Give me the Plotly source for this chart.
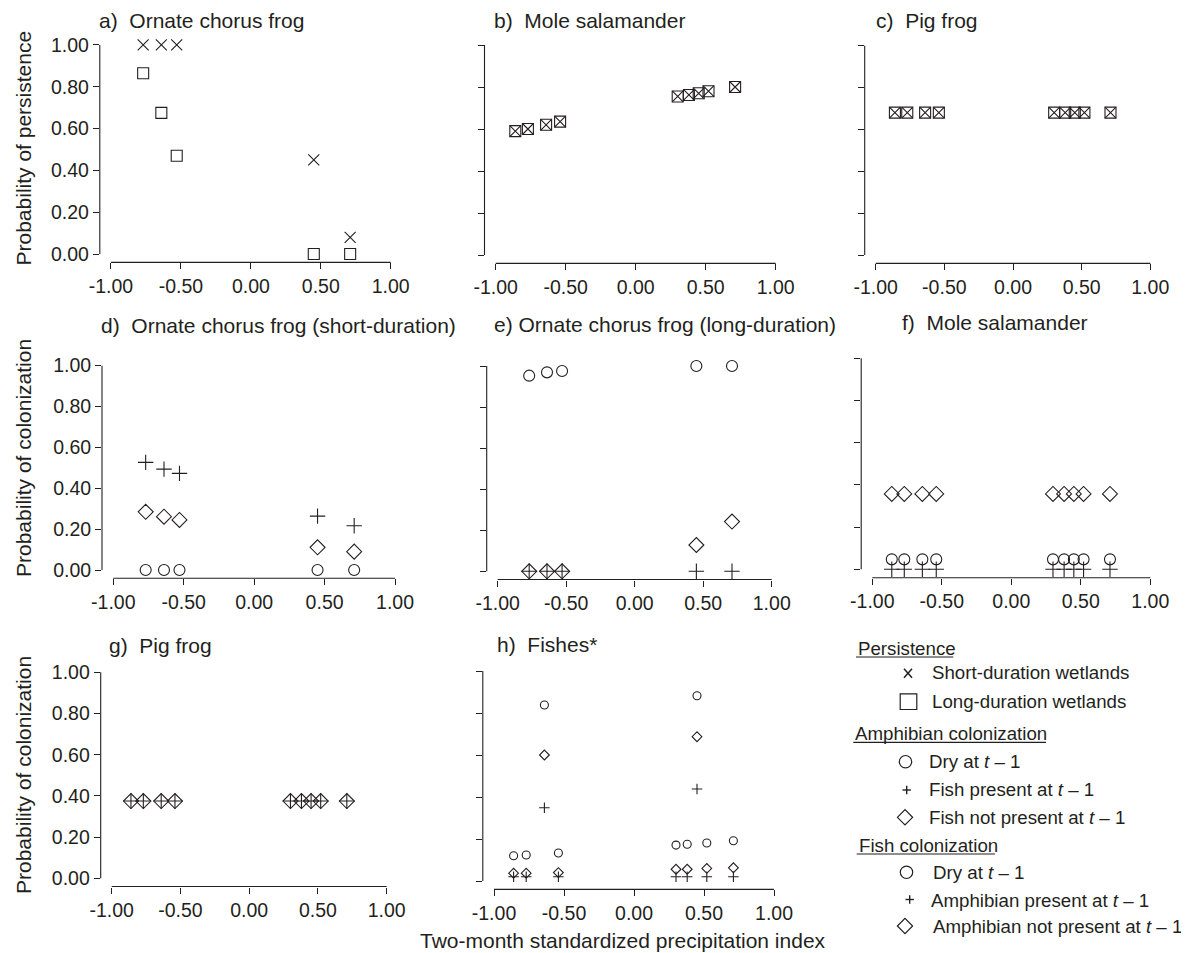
import plotly.graph_objects as go

# The page body has an 8 px margin, so the figure is drawn 8 px smaller and
# every reference pixel position is shifted by that margin.
REF_W, REF_H = 1189, 953
OFF = 8
W, H = REF_W - OFF, REF_H - OFF
FONT = "Liberation Sans, Arial, Helvetica, sans-serif"
INK = "#231f20"

# ---------------- data ----------------
# two-month standardized precipitation index of each survey year
spi5 = [-0.77, -0.64, -0.53, 0.45, 0.71]
spi9 = [-0.86, -0.77, -0.64, -0.54, 0.30, 0.38, 0.45, 0.52, 0.71]

# a) Ornate chorus frog - persistence
a_short = [1.00, 1.00, 1.00, 0.45, 0.08]
a_long = [0.865, 0.675, 0.47, 0.00, 0.00]
# b) Mole salamander - persistence
b_short = [0.59, 0.60, 0.62, 0.635, 0.755, 0.762, 0.77, 0.78, 0.80]
b_long = [0.59, 0.60, 0.62, 0.635, 0.755, 0.762, 0.77, 0.78, 0.80]
# c) Pig frog - persistence
c_short = [0.68, 0.68, 0.68, 0.68, 0.68, 0.68, 0.68, 0.68, 0.68]
c_long = [0.68, 0.68, 0.68, 0.68, 0.68, 0.68, 0.68, 0.68, 0.68]
# d) Ornate chorus frog (short-duration) - colonization
d_dry = [0.00, 0.00, 0.00, 0.00, 0.00]
d_fish = [0.527, 0.494, 0.473, 0.264, 0.217]
d_nofish = [0.285, 0.261, 0.245, 0.111, 0.090]
# e) Ornate chorus frog (long-duration) - colonization
e_dry = [0.953, 0.969, 0.976, 1.00, 1.00]
e_fish = [0.00, 0.00, 0.00, 0.00, 0.00]
e_nofish = [0.00, 0.00, 0.00, 0.128, 0.242]
# f) Mole salamander - colonization
f_dry = [0.047, 0.047, 0.047, 0.047, 0.047, 0.047, 0.047, 0.047, 0.047]
f_fish = [0.00, 0.00, 0.00, 0.00, 0.00, 0.00, 0.00, 0.00, 0.00]
f_nofish = [0.357, 0.357, 0.357, 0.357, 0.357, 0.357, 0.357, 0.357, 0.357]
# g) Pig frog - colonization
g_fish = [0.375, 0.375, 0.375, 0.375, 0.375, 0.375, 0.375, 0.375, 0.375]
g_nofish = [0.375, 0.375, 0.375, 0.375, 0.375, 0.375, 0.375, 0.375, 0.375]
# h) Fishes - colonization
h_dry = [0.120, 0.124, 0.838, 0.133, 0.171, 0.175, 0.882, 0.181, 0.192]
h_amph = [0.020, 0.020, 0.349, 0.020, 0.020, 0.020, 0.438, 0.020, 0.020]
h_noamph = [0.037, 0.037, 0.600, 0.040, 0.056, 0.056, 0.687, 0.060, 0.063]

titles = ["a)\u00a0 Ornate chorus frog", "b)\u00a0 Mole salamander", "c)\u00a0 Pig frog",
          "d)\u00a0 Ornate chorus frog (short-duration)", "e) Ornate chorus frog (long-duration)",
          "f)\u00a0 Mole salamander", "g)\u00a0 Pig frog", "h)\u00a0 Fishes*"]
x_tickvals = [-1.0, -0.5, 0.0, 0.5, 1.0]
x_ticktext = ["-1.00", "-0.50", "0.00", "0.50", "1.00"]
y_tickvals = [0.0, 0.2, 0.4, 0.6, 0.8, 1.0]
y_ticktext = ["0.00", "0.20", "0.40", "0.60", "0.80", "1.00"]

# ---------------- styles / layout ----------------
STY = {
    "short": dict(symbol="x-thin-open", size=11),
    "long": dict(symbol="square-open", size=11),
    "dry": dict(symbol="circle-open", size=11),
    "fish": dict(symbol="cross-thin-open", size=11),
    "nofish": dict(symbol="diamond-open", size=11.5),
    "dry_s": dict(symbol="circle-open", size=8),
    "fish_s": dict(symbol="cross-thin-open", size=7.5),
    "nofish_s": dict(symbol="diamond-open", size=7.5),
}

panels = [
    [(spi5, a_short, "short"), (spi5, a_long, "long")],
    [(spi9, b_short, "short"), (spi9, b_long, "long")],
    [(spi9, c_short, "short"), (spi9, c_long, "long")],
    [(spi5, d_dry, "dry"), (spi5, d_fish, "fish"), (spi5, d_nofish, "nofish")],
    [(spi5, e_dry, "dry"), (spi5, e_fish, "fish"), (spi5, e_nofish, "nofish")],
    [(spi9, f_dry, "dry"), (spi9, f_fish, "fish"), (spi9, f_nofish, "nofish")],
    [(spi9, g_fish, "fish"), (spi9, g_nofish, "nofish")],
    [(spi9, h_dry, "dry_s"), (spi9, h_amph, "fish_s"), (spi9, h_noamph, "nofish_s")],
]

# plot-region boxes in reference pixels: left, right, top, bottom
BOX = [
    (99.8, 401.9, 36.6, 262.4),
    (484.5, 786.9, 36.6, 263.4),
    (864.7, 1161.3, 37.3, 263.4),
    (102.0, 406.3, 357.5, 578.2),
    (486.7, 782.7, 357.8, 579.5),
    (861.2, 1161.4, 349.9, 577.7),
    (100.7, 397.7, 664.1, 886.5),
    (482.8, 785.2, 662.6, 889.4),
]
TITLE_POS = [(97, 21), (491.7, 21), (874, 21), (99.3, 325.5), (491.7, 324),
             (900, 322), (107.3, 645), (495, 644)]
XR = [-1.08, 1.08]
YR = [-0.04, 1.04]


def px(x):
    return (x - OFF) / W


def py(y):
    return 1 - (y - OFF) / H


fig = go.Figure()
shapes = []
annotations = []

for i, series in enumerate(panels):
    n = i + 1
    xa = "x" if n == 1 else f"x{n}"
    ya = "y" if n == 1 else f"y{n}"
    for xs, ys, key in series:
        st = STY[key]
        fig.add_trace(go.Scatter(
            x=xs, y=ys, mode="markers", xaxis=xa, yaxis=ya, showlegend=False,
            marker=dict(symbol=st["symbol"], size=st["size"], color=INK,
                        line=dict(color=INK, width=1.1)),
            cliponaxis=False, hoverinfo="x+y"))
    l, r, t, b = BOX[i]
    left_col = i in (0, 3, 6)
    fig.layout[f"xaxis{'' if n == 1 else n}"] = dict(
        domain=[px(l), px(r)], anchor=ya, range=XR, showgrid=False, zeroline=False,
        showline=False, ticks="outside", ticklen=6, tickwidth=1, tickcolor=INK,
        tickvals=x_tickvals, ticktext=x_ticktext, automargin=False,
        tickfont=dict(family=FONT, size=19.5, color=INK), fixedrange=True)
    fig.layout[f"yaxis{'' if n == 1 else n}"] = dict(
        domain=[py(b), py(t)], anchor=xa, range=YR, showgrid=False, zeroline=False,
        showline=False, ticks="outside", ticklen=6, tickwidth=1, tickcolor=INK,
        tickvals=y_tickvals, ticktext=y_ticktext, showticklabels=left_col,
        automargin=False,
        tickfont=dict(family=FONT, size=19.5, color=INK), fixedrange=True)
    fx0 = (x_tickvals[0] - XR[0]) / (XR[1] - XR[0])
    fx1 = (x_tickvals[-1] - XR[0]) / (XR[1] - XR[0])
    fy0 = (y_tickvals[0] - YR[0]) / (YR[1] - YR[0])
    fy1 = (y_tickvals[-1] - YR[0]) / (YR[1] - YR[0])
    shapes.append(dict(type="line", xref=f"{xa} domain", yref=f"{ya} domain",
                       x0=fx0, x1=fx1, y0=0, y1=0, line=dict(color=INK, width=1.1)))
    shapes.append(dict(type="line", xref=f"{xa} domain", yref=f"{ya} domain",
                       x0=0, x1=0, y0=fy0, y1=fy1, line=dict(color=INK, width=1.1)))
    tx, ty = TITLE_POS[i]
    annotations.append(dict(text=titles[i], x=px(tx), y=py(ty), xref="paper", yref="paper",
                            xanchor="left", yanchor="middle", showarrow=False,
                            font=dict(family=FONT, size=21, color=INK)))

# axis titles
for txt, yc in [("Probability of persistence", 148.5), ("Probability of colonization", 458),
                ("Probability of colonization", 775)]:
    annotations.append(dict(text=txt, x=px(23), y=py(yc), xref="paper", yref="paper",
                            xanchor="center", yanchor="middle", textangle=-90, showarrow=False,
                            font=dict(family=FONT, size=21, color=INK)))
annotations.append(dict(text="Two-month standardized precipitation index", x=px(623), y=py(940),
                        xref="paper", yref="paper", xanchor="center", yanchor="middle",
                        showarrow=False, font=dict(family=FONT, size=21, color=INK)))

# ---------------- custom legend ----------------
LF = 18.7
headers = [("Persistence", 856, 648, 953.3), ("Amphibian colonization", 853.3, 733.3, 1046),
           ("Fish colonization", 856.7, 845, 995)]
for txt, lx, ly, rx in headers:
    annotations.append(dict(text=txt, x=px(lx), y=py(ly), xref="paper", yref="paper",
                            xanchor="left", yanchor="middle", showarrow=False,
                            font=dict(family=FONT, size=LF, color=INK)))
    shapes.append(dict(type="line", xref="paper", yref="paper", x0=px(lx), x1=px(rx),
                       y0=py(ly + 9), y1=py(ly + 9), line=dict(color=INK, width=1.2)))

# key kind, label, key centre x, key centre y, label left x, label centre y
items = [
    ("x", "Short-duration wetlands", 908, 673.3, 930, 672.7),
    ("square", "Long-duration wetlands", 908.5, 701.7, 930, 701.7),
    ("circle", "Dry at <i>t</i> \u2013 1", 905.5, 761.7, 927.3, 761.7),
    ("+", "Fish present at <i>t</i> \u2013 1", 906.7, 790, 927.3, 789.3),
    ("diamond", "Fish not present at <i>t</i> \u2013 1", 905, 817.3, 927.3, 817.3),
    ("circle", "Dry at <i>t</i> \u2013 1", 906.5, 872.3, 930.7, 872.3),
    ("+", "Amphibian present at <i>t</i> \u2013 1", 909.7, 899.5, 929.3, 900),
    ("diamond", "Amphibian not present at <i>t</i> \u2013 1", 905, 926, 930.7, 926),
]


def seg(x0, y0, x1, y1, w=1.3):
    return dict(type="line", xref="paper", yref="paper", x0=px(x0), x1=px(x1),
                y0=py(y0), y1=py(y1), line=dict(color=INK, width=w))


for key, txt, kx, ky, tx, yy in items:
    annotations.append(dict(text=txt, x=px(tx), y=py(yy), xref="paper", yref="paper",
                            xanchor="left", yanchor="middle", showarrow=False,
                            font=dict(family=FONT, size=LF, color=INK)))
    if key == "x":
        shapes.append(seg(kx - 4, ky - 4.5, kx + 4, ky + 4.5, 1.5))
        shapes.append(seg(kx - 4, ky + 4.5, kx + 4, ky - 4.5, 1.5))
    elif key == "+":
        shapes.append(seg(kx - 4.2, ky, kx + 4.2, ky, 1.4))
        shapes.append(seg(kx, ky - 4.2, kx, ky + 4.2, 1.4))
    elif key == "circle":
        rr = 6.2
        shapes.append(dict(type="circle", xref="paper", yref="paper", x0=px(kx - rr),
                           x1=px(kx + rr), y0=py(ky + rr), y1=py(ky - rr),
                           line=dict(color=INK, width=1.2)))
    elif key == "square":
        shapes.append(dict(type="rect", xref="paper", yref="paper", x0=px(kx - 8.3),
                           x1=px(kx + 8.3), y0=py(ky + 7.8), y1=py(ky - 7.8),
                           line=dict(color=INK, width=1.2)))
    elif key == "diamond":
        d = 7.6
        path = (f"M {px(kx - d)},{py(ky)} L {px(kx)},{py(ky - d)} "
                f"L {px(kx + d)},{py(ky)} L {px(kx)},{py(ky + d)} Z")
        shapes.append(dict(type="path", xref="paper", yref="paper", path=path,
                           line=dict(color=INK, width=1.2)))

fig.update_layout(template="none", width=W, height=H, autosize=False,
                  margin=dict(l=0, r=0, t=0, b=0, pad=0, autoexpand=False),
                  paper_bgcolor="white", plot_bgcolor="white",
                  shapes=shapes, annotations=annotations,
                  font=dict(family=FONT, color=INK))

fig.write_html("out.html")
